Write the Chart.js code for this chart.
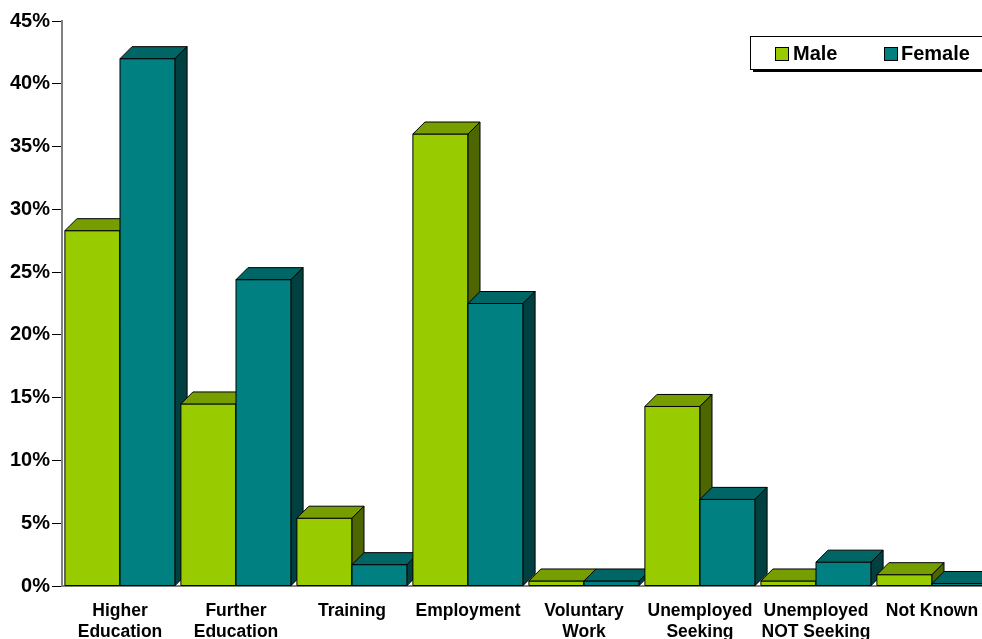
<!DOCTYPE html>
<html>
<head>
<meta charset="utf-8">
<script src="https://cdn.jsdelivr.net/npm/chart.js@4.4.0/dist/chart.umd.min.js"></script>
<style>
  html, body { margin: 0; padding: 0; background: #fff; overflow: hidden; }
  #wrap { width: 1000px; height: 639px; }
</style>
</head>
<body>
<div id="wrap"><canvas id="destChart" width="1000" height="639"></canvas></div>
<script>
// data (percent)
const categories = [
  ["Higher", "Education"],
  ["Further", "Education"],
  "Training",
  "Employment",
  ["Voluntary", "Work"],
  ["Unemployed", "Seeking"],
  ["Unemployed", "NOT Seeking"],
  "Not Known"
];
const seriesNames = ["Male", "Female"];
const maleValues = [28.3, 14.5, 5.4, 36.0, 0.4, 14.3, 0.4, 0.9];
const femaleValues = [42.0, 24.4, 1.7, 22.5, 0.4, 6.9, 1.9, 0.2];
const yTickMax = 45;
const yTickStep = 5;

const DX = 12, DY = 12;
const faces = [
  { front: "#99cc00", top: "#779e00", side: "#4d6600" },
  { front: "#008080", top: "#006565", side: "#004040" }
];
const boldFont = "'Liberation Sans', Arial, sans-serif";

function poly(ctx, pts, fill) {
  ctx.beginPath();
  ctx.moveTo(pts[0][0], pts[0][1]);
  for (let i = 1; i < pts.length; i++) ctx.lineTo(pts[i][0], pts[i][1]);
  ctx.closePath();
  ctx.fillStyle = fill;
  ctx.fill();
  ctx.stroke();
}

// draws the bars as 3D boxes, category by category so the layering is right
const boxes3d = {
  id: "boxes3d",
  beforeDatasetsDraw(chart) {
    const ctx = chart.ctx;
    const metas = chart.data.datasets.map((d, i) => chart.getDatasetMeta(i));
    ctx.save();
    ctx.lineWidth = 1;
    ctx.strokeStyle = "#000";
    for (let c = 0; c < categories.length; c++) {
      metas.forEach((meta, s) => {
        const bar = meta.data[c];
        const p = bar.getProps(["x", "y", "base", "width"], true);
        const l = p.x - p.width / 2, r = p.x + p.width / 2;
        const f = faces[s];
        poly(ctx, [[l, p.base], [l, p.y], [r, p.y], [r, p.base]], f.front);
        poly(ctx, [[l, p.y], [l + DX, p.y - DY], [r + DX, p.y - DY], [r, p.y]], f.top);
        poly(ctx, [[r, p.y], [r + DX, p.y - DY], [r + DX, p.base - DY], [r, p.base]], f.side);
      });
    }
    ctx.restore();
    return false;
  }
};

// boxed legend with drop shadow, top right
const boxLegend = {
  id: "boxLegend",
  afterDraw(chart) {
    const ctx = chart.ctx;
    ctx.save();
    ctx.fillStyle = "#000";
    ctx.fillRect(753, 39, 260, 33);
    ctx.fillStyle = "#fff";
    ctx.fillRect(750, 36, 260, 33);
    ctx.strokeStyle = "#000";
    ctx.lineWidth = 1;
    ctx.strokeRect(750.5, 36.5, 260, 33);
    const items = [{ x: 775, tx: 793 }, { x: 884, tx: 901 }];
    ctx.font = "bold 20px " + boldFont;
    ctx.textBaseline = "middle";
    items.forEach((it, i) => {
      ctx.fillStyle = faces[i].front;
      ctx.fillRect(it.x + 0.5, 47.5, 13, 13);
      ctx.strokeRect(it.x + 0.5, 47.5, 13, 13);
      ctx.fillStyle = "#000";
      ctx.fillText(seriesNames[i], it.tx, 54.5);
    });
    ctx.restore();
  }
};

const ctx = document.getElementById("destChart").getContext("2d");

new Chart(ctx, {
  type: "bar",
  data: {
    labels: categories,
    datasets: [
      { label: seriesNames[0], data: maleValues, backgroundColor: faces[0].front },
      { label: seriesNames[1], data: femaleValues, backgroundColor: faces[1].front }
    ]
  },
  options: {
    responsive: false,
    animation: false,
    categoryPercentage: 0.95,
    barPercentage: 1.0,
    layout: { padding: { left: 0, right: 10, top: 21, bottom: 0 } },
    plugins: {
      legend: { display: false },
      tooltip: { enabled: false }
    },
    scales: {
      x: {
        grid: { display: false, drawTicks: false },
        border: { display: true, color: "#808080", width: 2 },
        ticks: {
          color: "#000",
          font: { family: boldFont, size: 17.5, weight: "bold", lineHeight: 1.22 },
          padding: 14,
          maxRotation: 0,
          autoSkip: false
        },
        afterFit(scale) { scale.height = 53; }
      },
      y: {
        min: 0,
        max: yTickMax,
        grid: { drawOnChartArea: false, drawTicks: true, tickLength: 10, color: "#000" },
        border: { display: true, color: "#808080", width: 2 },
        ticks: {
          stepSize: yTickStep,
          color: "#000",
          padding: 2,
          font: { family: boldFont, size: 20, weight: "bold" },
          callback: (v) => v + "%"
        },
        afterFit(scale) { scale.width = 62; }
      }
    }
  },
  plugins: [boxes3d, boxLegend]
});
</script>
</body>
</html>
